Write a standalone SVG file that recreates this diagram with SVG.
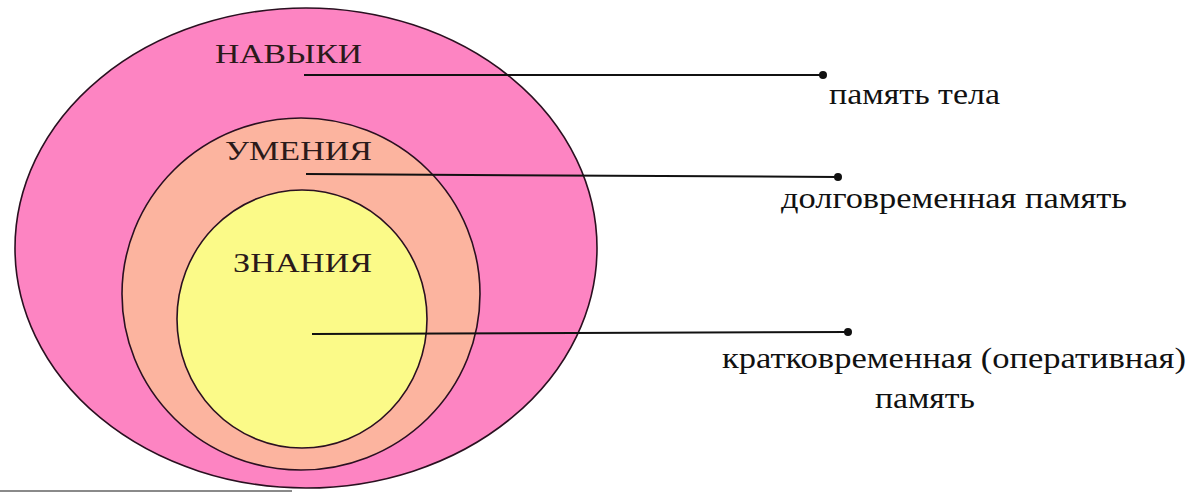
<svg xmlns="http://www.w3.org/2000/svg" width="1202" height="492" viewBox="0 0 1202 492">
<style>
.ring{stroke:#2a1020;stroke-width:1.6}
.lbl{font-family:"Liberation Serif","DejaVu Serif",serif;fill:#2b1a1a;font-size:28px}
.note{font-family:"Liberation Serif","DejaVu Serif",serif;fill:#111;font-size:30px}
.con{stroke:#111;stroke-width:2;fill:none}
.dot{fill:#111}
</style>
<rect width="1202" height="492" fill="#ffffff"/>
<line x1="0" y1="491" x2="292" y2="491" stroke="#8a8a8a" stroke-width="2"/>
<g id="navyki">
<ellipse class="ring" cx="306" cy="248" rx="291" ry="240" fill="#FD84C2"/>
<text class="lbl" x="215" y="63" textLength="147" lengthAdjust="spacingAndGlyphs">НАВЫКИ</text>
</g>
<g id="umeniya">
<ellipse class="ring" cx="301" cy="294" rx="179" ry="176" fill="#FCB49F"/>
<text class="lbl" x="225" y="160" textLength="147" lengthAdjust="spacingAndGlyphs">УМЕНИЯ</text>
</g>
<g id="znaniya">
<ellipse class="ring" cx="302" cy="319" rx="125" ry="129" fill="#FBFA88"/>
<text class="lbl" x="233" y="272" textLength="139" lengthAdjust="spacingAndGlyphs">ЗНАНИЯ</text>
</g>
<g id="connectors">
<line class="con" x1="304" y1="75" x2="823" y2="75"/>
<circle class="dot" cx="823" cy="75" r="4"/>
<line class="con" x1="306" y1="174" x2="838" y2="177"/>
<circle class="dot" cx="838" cy="177" r="4"/>
<line class="con" x1="312" y1="334" x2="848" y2="332"/>
<circle class="dot" cx="848" cy="332" r="4"/>
</g>
<g id="label-body">
<text class="note" x="829" y="104" textLength="171" lengthAdjust="spacingAndGlyphs">память тела</text>
</g>
<g id="label-long">
<text class="note" x="781" y="208" textLength="346" lengthAdjust="spacingAndGlyphs">долговременная память</text>
</g>
<g id="label-short">
<text class="note" x="722" y="368" textLength="464" lengthAdjust="spacingAndGlyphs">кратковременная (оперативная)</text>
<text class="note" x="875" y="408" textLength="100" lengthAdjust="spacingAndGlyphs">память</text>
</g>
</svg>
